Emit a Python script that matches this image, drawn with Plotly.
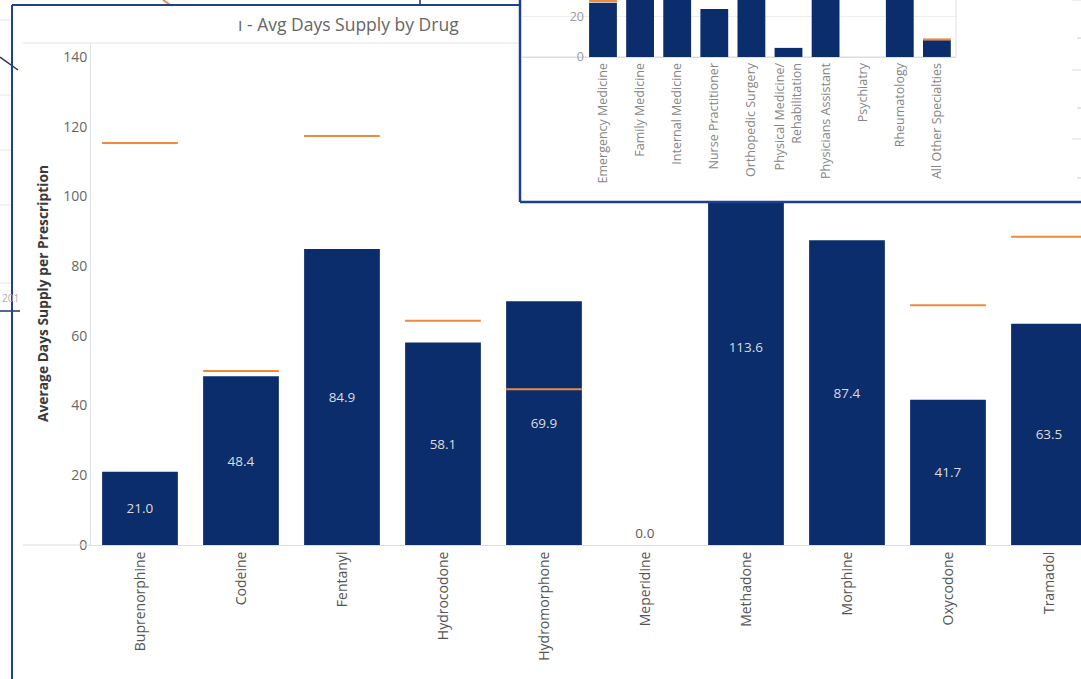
import plotly.graph_objects as go

# ---------------- data ----------------
drugs = ["Buprenorphine", "Codeine", "Fentanyl", "Hydrocodone", "Hydromorphone",
         "Meperidine", "Methadone", "Morphine", "Oxycodone", "Tramadol"]
avg_days = [21.0, 48.4, 84.9, 58.1, 69.9, 0.0, 113.6, 87.4, 41.7, 63.5]
ref_days = [115.3, 49.9, 117.3, 64.3, 44.7, None, None, None, 68.8, 88.4]
y_ticks = [0, 20, 40, 60, 80, 100, 120, 140]

specialties = ["Emergency Medicine", "Family Medicine", "Internal Medicine",
               "Nurse Practitioner", "Orthopedic Surgery",
               "Physical Medicine/<br>Rehabilitation", "Physicians Assistant",
               "Psychiatry", "Rheumatology", "All Other Specialties"]
spec_days = [26.9, 36.0, 35.0, 23.7, 38.0, 4.5, 34.0, 0.0, 37.0, 8.3]
spec_ref = [27.7, None, None, None, None, None, None, None, None, 8.7]
spec_ticks = [0, 20]

title_text = "ı - Avg Days Supply by Drug"
y_title = "Average Days Supply per Prescription"

# ---------------- style ----------------
W, H = 1081, 679
NAVY = "#0c2d6b"
ORANGE = "#ee8a3c"
FRAME = "#1f3f8f"
FONT = "Open Sans"
BAR_W = 0.75


def fx(px):
    return px / W


def fy(py):
    return 1 - py / H


def ref_segments(vals, half=BAR_W / 2):
    xs, ys = [], []
    for i, v in enumerate(vals):
        if v is None:
            continue
        xs += [i - half, i + half, None]
        ys += [v, v, None]
    return xs, ys


fig = go.Figure()

# main chart bars
idx = list(range(len(drugs)))
fig.add_trace(go.Bar(
    x=idx, y=avg_days, width=BAR_W, marker=dict(color=NAVY, line=dict(width=0)),
    text=[f"{v:.1f}" for v in avg_days],
    textposition=["outside" if v == 0 else "inside" for v in avg_days],
    insidetextanchor="middle", constraintext="none",
    textfont=dict(family=FONT, size=13.5,
                  color=["#5a5a5a" if v == 0 else "#dcdcdc" for v in avg_days]),
    hoverinfo="skip", xaxis="x", yaxis="y"))
rx, ry = ref_segments(ref_days)
fig.add_trace(go.Scatter(x=rx, y=ry, mode="lines", line=dict(color=ORANGE, width=2),
                         hoverinfo="skip", xaxis="x", yaxis="y"))

# inset chart bars
sidx = list(range(len(specialties)))
fig.add_trace(go.Bar(
    x=sidx, y=spec_days, width=BAR_W, marker=dict(color=NAVY, line=dict(width=0)),
    hoverinfo="skip", xaxis="x2", yaxis="y2"))
sx, sy = ref_segments(spec_ref)
fig.add_trace(go.Scatter(x=sx, y=sy, mode="lines", line=dict(color=ORANGE, width=2),
                         hoverinfo="skip", xaxis="x2", yaxis="y2"))

shapes = []


def line(x0, y0, x1, y1, color, width=1):
    shapes.append(dict(type="line", xref="paper", yref="paper",
                       x0=fx(x0), y0=fy(y0), x1=fx(x1), y1=fy(y1),
                       line=dict(color=color, width=width), layer="above"))


# background bits outside the main panel
for yy in [20, 95, 150, 205, 283]:
    line(0, yy, 12, yy, "#e6e6e6", 1)
line(0, 57, 18, 70, "#1d3566", 1.5)
line(0, 311, 20, 311, "#1d3566", 1.5)
line(163, 0, 172, 6, ORANGE, 2)
line(420, 0, 420, 5, "#1d3566", 1.5)

# main panel frame and header separators
line(12, 5, 12, 679, FRAME, 2)
line(12, 5, 520, 5, FRAME, 2)
line(23, 43, 520, 43, "#e4e4e4", 1)
line(23, 545, 91, 545, "#dcdcdc", 1)

# inset details
line(956, 0, 956, 57, "#e2e2e2", 1)
for yy in [0, 70, 139]:
    line(1072, yy, 1081, yy, "#dddddd", 1)
for yy in [38, 108, 178]:
    line(1077, yy, 1081, yy, "#cccccc", 1)
line(520, 0, 520, 202, FRAME, 2.5)
line(520, 202, 1081, 202, FRAME, 2.5)

annotations = [
    dict(text=title_text, xref="paper", yref="paper", x=fx(236), y=fy(24),
         xanchor="left", yanchor="middle", showarrow=False,
         font=dict(family=FONT, size=17.5, color="#666666")),
    dict(text=f"<b>{y_title}</b>", xref="paper", yref="paper", x=fx(42),
         y=fy(294), textangle=-90, xanchor="center", yanchor="middle",
         showarrow=False, font=dict(family=FONT, size=13.8, color="#3a3a3a")),
    dict(text="201", xref="paper", yref="paper", x=0, y=fy(298),
         xanchor="left", yanchor="middle", showarrow=False,
         font=dict(family=FONT, size=10, color="#aaaaaa")),
]

fig.update_layout(
    template="none",
    width=W, height=H, margin=dict(l=0, r=0, t=0, b=0, pad=0),
    paper_bgcolor="white", plot_bgcolor="white", showlegend=False,
    barmode="overlay", font=dict(family=FONT, color="#555555"),
    shapes=shapes, annotations=annotations,
    xaxis=dict(domain=[fx(91), 1], range=[-0.485, 9.317], anchor="y",
               automargin=False, tickmode="array", tickvals=idx, ticktext=drugs,
               tickangle=-90, showgrid=False, zeroline=False, showline=True,
               linecolor="#dcdcdc", ticks="",
               tickfont=dict(family=FONT, size=14, color="#555555")),
    yaxis=dict(domain=[fy(545), fy(43)], range=[0, 144], anchor="x",
               automargin=False, tickmode="array", tickvals=y_ticks,
               showgrid=False, zeroline=False, showline=True, linecolor="#e2e2e2",
               ticks="", tickfont=dict(family=FONT, size=14, color="#666666")),
    xaxis2=dict(domain=[fx(522), fx(956)], range=[-2.183, 9.515], anchor="free",
                position=fy(57), automargin=False, tickmode="array",
                tickvals=sidx, ticktext=specialties, tickangle=-90,
                showgrid=False, zeroline=False, showline=True,
                linecolor="#dddddd", ticks="",
                tickfont=dict(family=FONT, size=12.5, color="#858585")),
    yaxis2=dict(domain=[fy(201), 1], range=[-71.3, 28.2], anchor="free",
                position=fx(584), automargin=False, tickmode="array",
                tickvals=spec_ticks, showgrid=True, gridcolor="#eeeeee",
                zeroline=False, showline=False, ticks="",
                tickfont=dict(family=FONT, size=12.5, color="#999999")),
)

fig.write_html(
    "out.html",
    config={"displayModeBar": False},
    post_script="document.body.style.margin='0';document.body.style.overflow='hidden';",
)
